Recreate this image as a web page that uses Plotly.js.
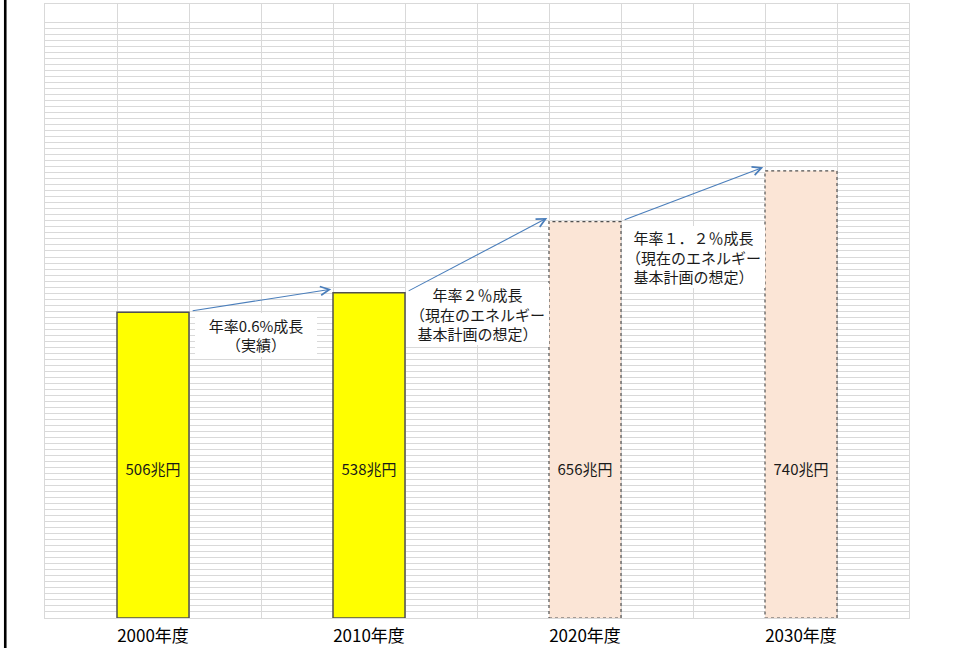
<!DOCTYPE html>
<html>
<head>
<meta charset="utf-8">
<script src="https://cdn.plot.ly/plotly-3.0.1.min.js"></script>
<style>html,body{margin:0;padding:0;background:#fff;}#chart{width:953px;height:648px;}</style>
</head>
<body>
<div id="chart"></div>
<script>
// ---- data ----
const categories = ['2000年度', '2010年度', '2020年度', '2030年度'];
const gdpValues = [506, 538, 656, 740];          // 兆円
const barLabels = ['506兆円', '538兆円', '656兆円', '740兆円'];
const isProjection = [false, false, true, true];
const growthNotes = [
  '年率0.6%成長<br>（実績）',
  '年率２％成長<br>（現在のエネルギー<br>基本計画の想定）',
  '年率１．２％成長<br>（現在のエネルギー<br>基本計画の想定）'
];

// ---- styling ----
const FONT = '"Noto Sans CJK JP", "Noto Sans", sans-serif';
const gridColor = '#d9d9d9';
const actualFill = '#ffff00';
const projFill = '#fbe5d6';
const borderColor = '#505050';
const arrowColor = '#4a7ebb';
const xs = categories.map((c, i) => i);
const halfW = 1 / 6;
const labelY = 243;

const traces = [
  // empty trace so the grid subplot (x, y) exists
  { type: 'scatter', mode: 'markers', x: [], y: [], xaxis: 'x', yaxis: 'y', hoverinfo: 'skip', showlegend: false },
  {
    type: 'bar', x: xs, y: gdpValues, xaxis: 'x2', yaxis: 'y2', width: 1 / 3,
    marker: {
      color: isProjection.map(p => p ? projFill : actualFill),
      line: { color: borderColor, width: isProjection.map(p => p ? 0 : 1.5) }
    },
    hoverinfo: 'skip', showlegend: false
  },
  {
    type: 'scatter', mode: 'text', x: xs, y: xs.map(() => labelY), xaxis: 'x2', yaxis: 'y2',
    text: barLabels, textposition: 'middle center',
    textfont: { family: FONT, size: 15, color: '#1a1a1a' },
    hoverinfo: 'skip', showlegend: false
  }
];

const shapes = [];
isProjection.forEach((p, i) => {
  if (p) shapes.push({
    type: 'rect', xref: 'x2', yref: 'y2',
    x0: i - halfW, x1: i + halfW, y0: 0, y1: gdpValues[i],
    line: { color: borderColor, width: 1.2, dash: 'dot' }, fillcolor: 'rgba(0,0,0,0)'
  });
});
// left dark frame edge
shapes.push({ type: 'line', xref: 'paper', yref: 'paper', x0: -0.046, x1: -0.046, y0: -0.06, y1: 1.02,
  line: { color: '#000', width: 2.6 } });

const annotations = [];
const notePos = [[0.477, 468], [1.502, 503], [2.502, 597]];
const noteBox = [[122, 44], [143, 62], [143, 62]];
for (let i = 0; i < growthNotes.length; i++) {
  annotations.push({
    xref: 'x2', yref: 'y2', x: notePos[i][0], y: notePos[i][1],
    text: growthNotes[i], showarrow: false, xanchor: 'center', yanchor: 'middle',
    width: noteBox[i][0], height: noteBox[i][1], valign: 'middle',
    bgcolor: '#ffffff', borderpad: 0, borderwidth: 0,
    font: { family: FONT, size: 15, color: '#1a1a1a' }, align: 'center'
  });
}
for (let i = 0; i < gdpValues.length - 1; i++) {
  annotations.push({
    xref: 'x2', yref: 'y2', axref: 'x2', ayref: 'y2',
    ax: i + halfW + 0.01, ay: gdpValues[i] + 2,
    x: i + 1 - halfW - 0.008, y: gdpValues[i + 1] + 6,
    text: '', showarrow: true, arrowhead: 5, arrowsize: 1.6, arrowwidth: 1.1,
    arrowcolor: arrowColor, standoff: 0, startstandoff: 0
  });
}

const gridRows = [];
for (let k = 0; k <= 99; k++) gridRows.push(k);

const layout = {
  width: 953, height: 648,
  margin: { l: 45, r: 44, t: 4, b: 30, pad: 0 },
  paper_bgcolor: '#ffffff', plot_bgcolor: '#ffffff',
  font: { family: FONT },
  showlegend: false,
  xaxis: {
    range: [-0.5, 3.5], tickmode: 'linear', tick0: -0.5, dtick: 1 / 3,
    showgrid: true, gridcolor: gridColor, gridwidth: 1,
    showticklabels: false, ticks: '', zeroline: false,
    showline: true, mirror: true, linecolor: gridColor, linewidth: 1, fixedrange: true
  },
  yaxis: {
    range: [0, 102.05], tickmode: 'array', tickvals: gridRows,
    showgrid: true, gridcolor: gridColor, gridwidth: 1,
    showticklabels: false, ticks: '', zeroline: false,
    showline: true, mirror: true, linecolor: gridColor, linewidth: 1, fixedrange: true
  },
  xaxis2: {
    overlaying: 'x', anchor: 'y2', range: [-0.5, 3.5],
    tickmode: 'array', tickvals: xs, ticktext: categories,
    tickfont: { family: FONT, size: 17, color: '#000' },
    showgrid: false, zeroline: false, showline: false, ticks: '',
    ticklabelstandoff: 6, fixedrange: true
  },
  yaxis2: {
    overlaying: 'y', range: [0, 1016], visible: false, showgrid: false, zeroline: false, fixedrange: true
  },
  shapes: shapes,
  annotations: annotations
};

Plotly.newPlot('chart', traces, layout, { displayModeBar: false, staticPlot: true });
</script>
</body>
</html>
